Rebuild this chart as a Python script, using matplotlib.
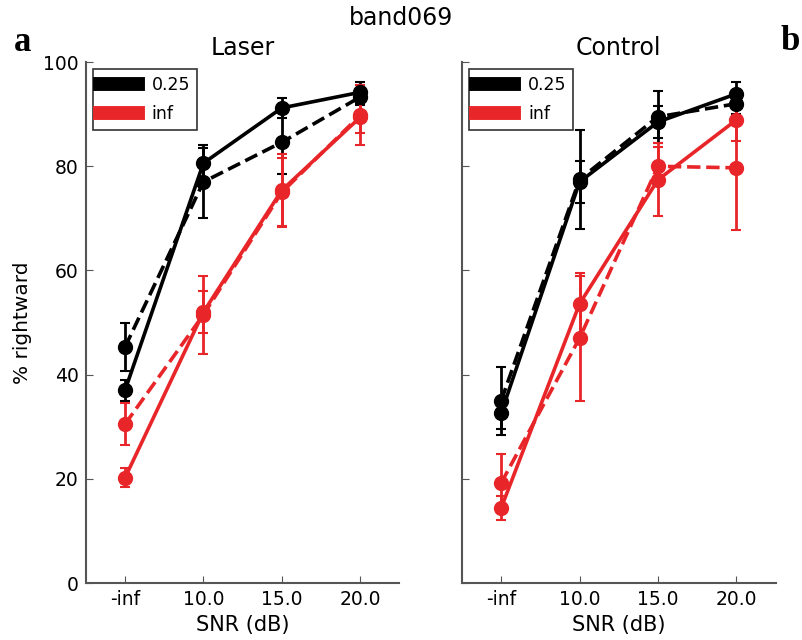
import matplotlib
matplotlib.use('Agg')
import matplotlib.pyplot as plt
import numpy as np

plt.rcParams['font.family'] = ['DejaVu Sans']

# data
snr_labels = ['-inf', '10.0', '15.0', '20.0']

laser_black_solid = [37.0, 80.6, 91.2, 94.2]
laser_black_solid_err = [2.0, 3.0, 2.0, 2.0]
laser_black_dash = [45.3, 77.0, 84.6, 93.3]
laser_black_dash_err = [4.6, 7.0, 6.0, 1.5]
laser_red_solid = [20.2, 52.0, 75.4, 89.4]
laser_red_solid_err = [1.8, 4.0, 7.0, 3.0]
laser_red_dash = [30.5, 51.5, 75.0, 89.8]
laser_red_dash_err = [4.0, 7.5, 6.5, 5.8]

control_black_solid = [32.6, 77.0, 88.5, 93.9]
control_black_solid_err = [3.0, 4.0, 3.0, 2.3]
control_black_dash = [35.0, 77.5, 89.5, 92.0]
control_black_dash_err = [6.5, 9.5, 5.0, 2.0]
control_red_solid = [14.4, 53.6, 77.4, 88.9]
control_red_solid_err = [2.3, 6.0, 7.0, 4.0]
control_red_dash = [19.2, 47.0, 80.0, 79.7]
control_red_dash_err = [5.5, 12.0, 3.7, 12.0]

RED = '#e8262a'
x = np.arange(len(snr_labels))

fig = plt.figure(figsize=(8.02, 6.4), dpi=100)
ax1 = fig.add_axes([0.107, 0.089, 0.391, 0.814])
ax2 = fig.add_axes([0.576, 0.089, 0.391, 0.814])


def draw(ax, series, title):
    for vals, err, col, ls in series:
        ax.errorbar(x, vals, yerr=err, color=col, ls=ls, lw=2.6, marker='o',
                    ms=10, mec=col, elinewidth=2, capsize=3.5, capthick=1.5)
    ax.set_xlim(-0.5, 3.5)
    ax.set_ylim(0, 100)
    ax.set_xticks(x)
    ax.set_xticklabels(snr_labels)
    ax.set_yticks([0, 20, 40, 60, 80, 100])
    ax.spines['top'].set_visible(False)
    ax.spines['right'].set_visible(False)
    for s in ['left', 'bottom']:
        ax.spines[s].set_color('#555555')
        ax.spines[s].set_linewidth(1.5)
    ax.tick_params(direction='in', length=5, labelsize=13.5, color='#555555',
                   top=False, right=False, pad=5)
    ax.set_xlabel('SNR (dB)', fontsize=15, labelpad=4)
    ax.set_title(title, fontsize=17, pad=5)
    h1, = ax.plot([], [], color='black', lw=10)
    h2, = ax.plot([], [], color=RED, lw=10)
    leg = ax.legend([h1, h2], ['0.25', 'inf'], loc='upper left', fontsize=12.5,
                    handlelength=2.2, labelspacing=0.65, fancybox=False,
                    borderaxespad=0.4)
    leg.get_frame().set_edgecolor('black')
    leg.get_frame().set_linewidth(1.2)


draw(ax1, [(laser_black_solid, laser_black_solid_err, 'black', '-'),
           (laser_black_dash, laser_black_dash_err, 'black', '--'),
           (laser_red_solid, laser_red_solid_err, RED, '-'),
           (laser_red_dash, laser_red_dash_err, RED, '--')], 'Laser')
draw(ax2, [(control_black_solid, control_black_solid_err, 'black', '-'),
           (control_black_dash, control_black_dash_err, 'black', '--'),
           (control_red_solid, control_red_solid_err, RED, '-'),
           (control_red_dash, control_red_dash_err, RED, '--')], 'Control')
ax2.set_yticklabels([])
ax1.set_ylabel('% rightward', fontsize=14.5, labelpad=8)

fig.text(0.5, 0.972, 'band069', ha='center', va='center', fontsize=17)
fig.text(0.028, 0.933, 'a', fontsize=25, fontweight='bold',
         family='Liberation Serif', ha='center', va='center')
fig.text(0.985, 0.935, 'b', fontsize=25, fontweight='bold',
         family='Liberation Serif', ha='center', va='center')

plt.savefig('out.png', dpi=100)
